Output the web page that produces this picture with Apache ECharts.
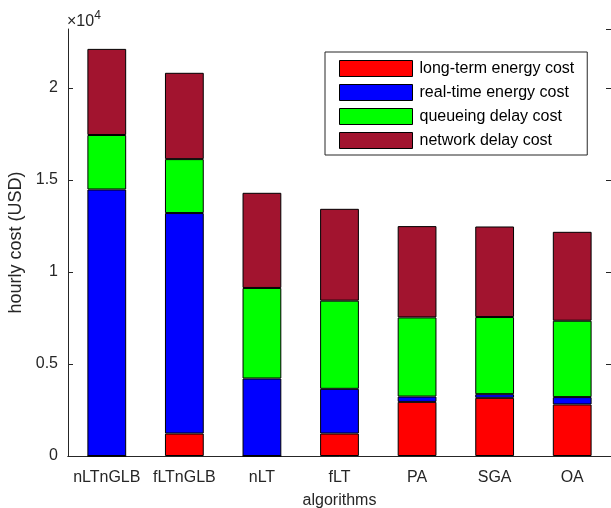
<!DOCTYPE html>
<html>
<head>
<meta charset="utf-8">
<script src="https://cdn.jsdelivr.net/npm/echarts@6/dist/echarts.min.js"></script>
<style>html,body{margin:0;padding:0;background:#fff;}#c{width:611px;height:508px;}</style>
</head>
<body>
<div id="c"></div>
<script>
var categories = ['nLTnGLB', 'fLTnGLB', 'nLT', 'fLT', 'PA', 'SGA', 'OA'];
var longTermEnergy = [0, 1220, 0, 1220, 2940, 3160, 2800];
var realTimeEnergy = [14480, 11980, 4210, 2430, 290, 200, 400];
var queueingDelay = [2960, 2930, 4920, 4790, 4300, 4190, 4150];
var networkDelay = [4680, 4690, 5170, 4990, 4960, 4920, 4830];
var seriesNames = ['long-term energy cost', 'real-time energy cost', 'queueing delay cost', 'network delay cost'];
var yTicks = [0, 5000, 10000, 15000, 20000];

var FONT = '"Liberation Sans", Arial, Helvetica, sans-serif';
var TXT = '#262626';
var colors = ['#ff0000', '#0000ff', '#00ff00', '#a2142f'];
var seriesData = [longTermEnergy, realTimeEnergy, queueingDelay, networkDelay];

var chart = echarts.init(document.getElementById('c'), null, {renderer: 'canvas'});
var series = seriesNames.map(function (n, i) {
  return {
    name: n, type: 'bar', stack: 'total', barWidth: '50%',
    data: seriesData[i],
    itemStyle: {color: colors[i], borderColor: '#000', borderWidth: 1},
    emphasis: {disabled: true},
    animation: false
  };
});

chart.setOption({
  animation: false,
  textStyle: {fontFamily: FONT},
  grid: {left: 68, right: 0, top: 29, bottom: 52, containLabel: false, outerBoundsMode: 'none'},
  legend: {
    orient: 'vertical', left: 325, top: 52,
    padding: [8, 13, 6, 14],
    itemWidth: 73, itemHeight: 16, itemGap: 7,
    borderColor: '#262626', borderWidth: 1, backgroundColor: '#fff',
    icon: 'rect',
    itemStyle: {borderColor: '#000', borderWidth: 1},
    textStyle: {fontSize: 16, color: '#000', fontFamily: FONT, lineHeight: 16, padding: [0, 0, 0, 2]},
    data: seriesNames,
    selectedMode: false
  },
  xAxis: [{
    type: 'category', data: categories, position: 'bottom',
    axisLine: {lineStyle: {color: TXT, width: 1}},
    axisTick: {inside: true, alignWithLabel: true, length: 5, lineStyle: {color: TXT}},
    axisLabel: {fontSize: 16, color: TXT, margin: 14, fontFamily: FONT, interval: 0},
    name: 'algorithms', nameLocation: 'middle', nameGap: 37,
    nameTextStyle: {fontSize: 16, color: TXT, fontFamily: FONT}
  }, {
    type: 'category', data: categories, position: 'top',
    axisLine: {lineStyle: {color: TXT, width: 1}},
    axisTick: {inside: true, alignWithLabel: true, length: 5, lineStyle: {color: TXT}, interval: 0},
    axisLabel: {show: false}
  }],
  yAxis: [{
    type: 'value', min: 0, max: 23200, interval: 5000,
    axisLine: {show: true, lineStyle: {color: TXT, width: 1}},
    axisTick: {show: true, inside: true, length: 5, lineStyle: {color: TXT}},
    splitLine: {show: false},
    axisLabel: {fontSize: 16, color: TXT, margin: 10, fontFamily: FONT,
      showMaxLabel: false,
      formatter: function (v) { return yTicks.indexOf(v) >= 0 ? String(v / 10000) : ''; }},
    name: 'hourly cost (USD)', nameLocation: 'middle', nameGap: 36,
    nameTextStyle: {fontSize: 18, color: TXT, fontFamily: FONT}
  }, {
    type: 'value', min: 0, max: 23200, interval: 5000, position: 'right',
    axisLine: {show: false},
    axisTick: {show: true, inside: true, length: 5, lineStyle: {color: TXT}},
    splitLine: {show: false},
    axisLabel: {show: false}
  }],
  graphic: [{
    type: 'text', left: 67, top: 10,
    style: {
      text: '{a|×10}{b|4}',
      rich: {
        a: {fontSize: 16, fill: TXT, fontFamily: FONT, verticalAlign: 'bottom', lineHeight: 20},
        b: {fontSize: 12, fill: TXT, fontFamily: FONT, verticalAlign: 'top', lineHeight: 20}
      }
    }
  }],
  series: series
});
</script>
</body>
</html>
